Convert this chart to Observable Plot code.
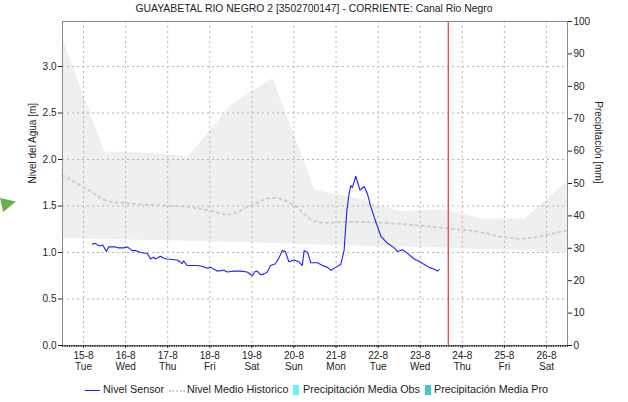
<!DOCTYPE html>
<html>
<head>
<meta charset="utf-8">
<script src="https://cdn.jsdelivr.net/npm/d3@7"></script>
<script src="https://cdn.jsdelivr.net/npm/@observablehq/plot@0.6"></script>
<style>
  html, body { margin: 0; padding: 0; background: #fff; }
  #wrap { position: relative; width: 628px; height: 402px; overflow: hidden; font-family: "Liberation Sans", Arial, sans-serif; }
  #chart { position: absolute; left: 0; top: 0; }
  #title { position: absolute; left: 0; top: 3px; width: 628px; text-align: center; font-size: 10.4px; color: #222; }
  .leg { position: absolute; top: 383px; font-size: 10.8px; color: #222; white-space: nowrap; }
  .sw { position: absolute; }
  #marker { position: absolute; left: 0; top: 198px; width: 16px; height: 14px; background: #6aae45; clip-path: polygon(0 0, 100% 25%, 20% 100%); }
</style>
</head>
<body>
<div id="wrap">
  <div id="marker"></div>
  <div id="chart"></div>
  <div id="title"></div>
  <div id="legend"></div>
</div>
<script>
// ---- Data ----
const titleText = "GUAYABETAL RIO NEGRO 2 [3502700147] - CORRIENTE: Canal Rio Negro";
const leftLabel = "Nivel del Agua [m]";
const rightLabel = "Precipitación [mm]";

const sensorTimes = [
  "08-15 05:00","08-15 06:40","08-15 08:00","08-15 09:30","08-15 11:00","08-15 13:00","08-15 14:15","08-15 18:00","08-15 20:00","08-15 22:50",
  "08-16 01:00","08-16 03:40","08-16 06:00","08-16 08:25","08-16 12:10","08-16 13:00","08-16 14:10","08-16 16:00","08-16 17:00","08-16 19:50","08-16 21:30","08-16 23:40",
  "08-17 05:20","08-17 07:00","08-17 08:15","08-17 09:00","08-17 11:05","08-17 16:50","08-17 20:00","08-17 22:30",
  "08-18 00:25","08-18 04:15","08-18 08:00","08-18 10:00","08-18 13:45","08-18 17:35","08-18 21:20",
  "08-19 00:15","08-19 01:30","08-19 03:05","08-19 05:00","08-19 07:00","08-19 08:50","08-19 10:40","08-19 13:30","08-19 15:25","08-19 17:20","08-19 19:10","08-19 21:05",
  "08-20 00:00","08-20 02:50","08-20 04:45","08-20 05:50","08-20 07:50","08-20 09:35","08-20 13:25","08-20 16:15","08-20 19:10","08-20 21:00","08-20 23:50",
  "08-21 02:40","08-21 04:35","08-21 06:10","08-21 07:25","08-21 08:25","08-21 09:20","08-21 11:15","08-21 13:40","08-21 16:00","08-21 17:55","08-21 19:50","08-21 22:40",
  "08-22 01:40","08-22 05:20","08-22 09:10","08-22 11:05","08-22 13:55","08-22 16:45","08-22 20:35","08-22 23:50",
  "08-23 02:20","08-23 05:05","08-23 08:00","08-23 09:55","08-23 10:50"
];
const sensorLevels = [
  1.09,1.10,1.08,1.07,1.08,1.01,1.06,1.06,1.05,1.05,
  1.06,1.02,1.02,1.00,0.99,0.97,0.93,0.95,0.93,0.96,0.94,0.93,
  0.92,0.90,0.88,0.91,0.86,0.86,0.85,0.83,
  0.84,0.80,0.81,0.79,0.80,0.80,0.79,
  0.75,0.79,0.80,0.76,0.77,0.79,0.86,0.88,0.94,1.02,1.01,0.90,
  0.92,0.90,0.86,1.02,1.00,0.89,0.89,0.86,0.84,0.81,0.84,
  0.87,1.02,1.45,1.63,1.72,1.70,1.82,1.67,1.71,1.63,1.49,1.33,
  1.17,1.10,1.05,1.01,1.03,0.99,0.93,0.90,
  0.87,0.84,0.82,0.80,0.82
];

const histTimes = [
  "08-14 12:00","08-15 03:00","08-15 12:30","08-16 00:00","08-16 17:00","08-17 12:00","08-18 00:00","08-18 11:00",
  "08-19 00:00","08-19 12:00","08-20 00:00","08-20 11:30","08-21 11:00","08-22 11:00","08-23 15:40","08-24 07:00",
  "08-24 22:00","08-25 11:30","08-26 12:00"
];
const histLevels = [
  1.83,1.67,1.56,1.53,1.51,1.49,1.45,1.41,
  1.51,1.59,1.51,1.34,1.33,1.31,1.26,1.23,
  1.17,1.15,1.24
];

const bandTimes = [
  "08-14 12:00","08-15 12:00","08-16 12:00","08-17 12:00","08-18 12:00","08-19 12:00","08-20 12:00",
  "08-21 12:00","08-22 12:00","08-23 12:00","08-24 12:00","08-25 12:00","08-26 12:00"
];
const bandHigh = [3.30,2.08,2.07,2.03,2.58,2.87,1.67,1.58,1.44,1.46,1.36,1.36,1.76];
const bandLow  = [1.15,1.14,1.13,1.12,1.11,1.10,1.08,1.07,1.06,1.05,1.03,1.02,1.00];

const nowTime = "08-23 16:00";

const xTickDays = ["08-15","08-16","08-17","08-18","08-19","08-20","08-21","08-22","08-23","08-24","08-25","08-26"];
const xTickDayNames = ["Tue","Wed","Thu","Fri","Sat","Sun","Mon","Tue","Wed","Thu","Fri","Sat"];
const yTicks = [0, 0.5, 1.0, 1.5, 2.0, 2.5, 3.0];
const precipTicks = [0,10,20,30,40,50,60,70,80,90,100];

const legendItems = ["Nivel Sensor","Nivel Medio Historico","Precipitación Media Obs","Precipitación Media Pro"];

// ---- Build ----
const year = 2023;
const parse = s => new Date(`${year}-${s.replace(" ", "T")}:00Z`);
const parseDay = s => new Date(`${year}-${s}T00:00:00Z`);

const sensor = sensorTimes.map((t, i) => ({t: parse(t), v: sensorLevels[i]}));
const hist = histTimes.map((t, i) => ({t: parse(t), v: histLevels[i]}));
const band = bandTimes.map((t, i) => ({t: parse(t), hi: bandHigh[i], lo: bandLow[i]}));
const dayTicks = xTickDays.map(parseDay);
const dayName = new Map(dayTicks.map((d, i) => [+d, xTickDayNames[i]]));

const xDomain = [parse("08-14 12:00"), parse("08-26 12:00")];
const yMax = 3.484;
const hourTicks = d3.utcHour.range(xDomain[0], new Date(+xDomain[1] + 1));

const plot = Plot.plot({
  width: 628,
  height: 402,
  marginTop: 21,
  marginBottom: 57,
  marginLeft: 62,
  marginRight: 61,
  style: {fontFamily: "'Liberation Sans', Arial, sans-serif", fontSize: "10px", color: "#222", background: "transparent"},
  x: {type: "utc", domain: xDomain},
  y: {domain: [0, yMax]},
  marks: [
    Plot.areaY(band, {x: "t", y1: "lo", y2: "hi", fill: "#efefef"}),
    Plot.gridY(yTicks.slice(1), {stroke: "#b4b4b4", strokeOpacity: 1, strokeDasharray: "2,3"}),
    Plot.gridX(dayTicks, {stroke: "#b4b4b4", strokeOpacity: 1, strokeDasharray: "2,3"}),
    Plot.line(hist, {x: "t", y: "v", stroke: "#cdcdcd", strokeWidth: 2, strokeDasharray: "2,4", curve: "catmull-rom"}),
    Plot.line(sensor, {x: "t", y: "v", stroke: "#1f1fff", strokeWidth: 1.1}),
    Plot.ruleX([parse(nowTime)], {stroke: "#e03a3a", strokeWidth: 1.2}),
    Plot.frame({stroke: "#8c8c8c"}),
    Plot.axisY(yTicks, {anchor: "left", tickFormat: d3.format(".1f"), tickSize: 4, tickPadding: 2, label: null}),
    Plot.axisY(precipTicks.map(p => p * yMax / 100), {anchor: "right", tickFormat: d => String(Math.round(d * 100 / yMax)), tickSize: 4, tickPadding: 2, label: null}),
    Plot.axisX(hourTicks, {anchor: "bottom", tickSize: 2, tickFormat: () => "", label: null, stroke: "#333"}),
    Plot.axisX(dayTicks, {anchor: "bottom", tickSize: 3, tickPadding: 3, lineHeight: 1.1, label: null,
      tickFormat: d => `${d.getUTCDate()}-${d.getUTCMonth() + 1}\n${dayName.get(+d)}`}),
    Plot.text([leftLabel], {frameAnchor: "left", dx: -30, rotate: -90, fontSize: 10}),
    Plot.text([rightLabel], {frameAnchor: "right", dx: 31, rotate: 90, fontSize: 10})
  ]
});
document.getElementById("chart").appendChild(plot);
document.getElementById("title").textContent = titleText;

// Legend
const legLefts = [103, 187, 303, 434];
const swatches = [
  {left: 85, top: 390, w: 15, h: 0, css: "border-top:1.2px solid #1f1fff"},
  {left: 169, top: 390, w: 16, h: 0, css: "border-top:2px dotted #cfcfcf"},
  {left: 293, top: 385, w: 6, h: 10, css: "background:#5ff7f7"},
  {left: 425, top: 385, w: 6, h: 10, css: "background:#45c7c7"}
];
legendItems.forEach((name, i) => {
  const s = document.createElement("div");
  s.className = "sw";
  const sw = swatches[i];
  s.style.cssText = `left:${sw.left}px;top:${sw.top}px;width:${sw.w}px;height:${sw.h}px;${sw.css}`;
  document.getElementById("wrap").appendChild(s);
  const t = document.createElement("div");
  t.className = "leg";
  t.style.left = legLefts[i] + "px";
  t.textContent = name;
  document.getElementById("wrap").appendChild(t);
});
</script>
</body>
</html>
